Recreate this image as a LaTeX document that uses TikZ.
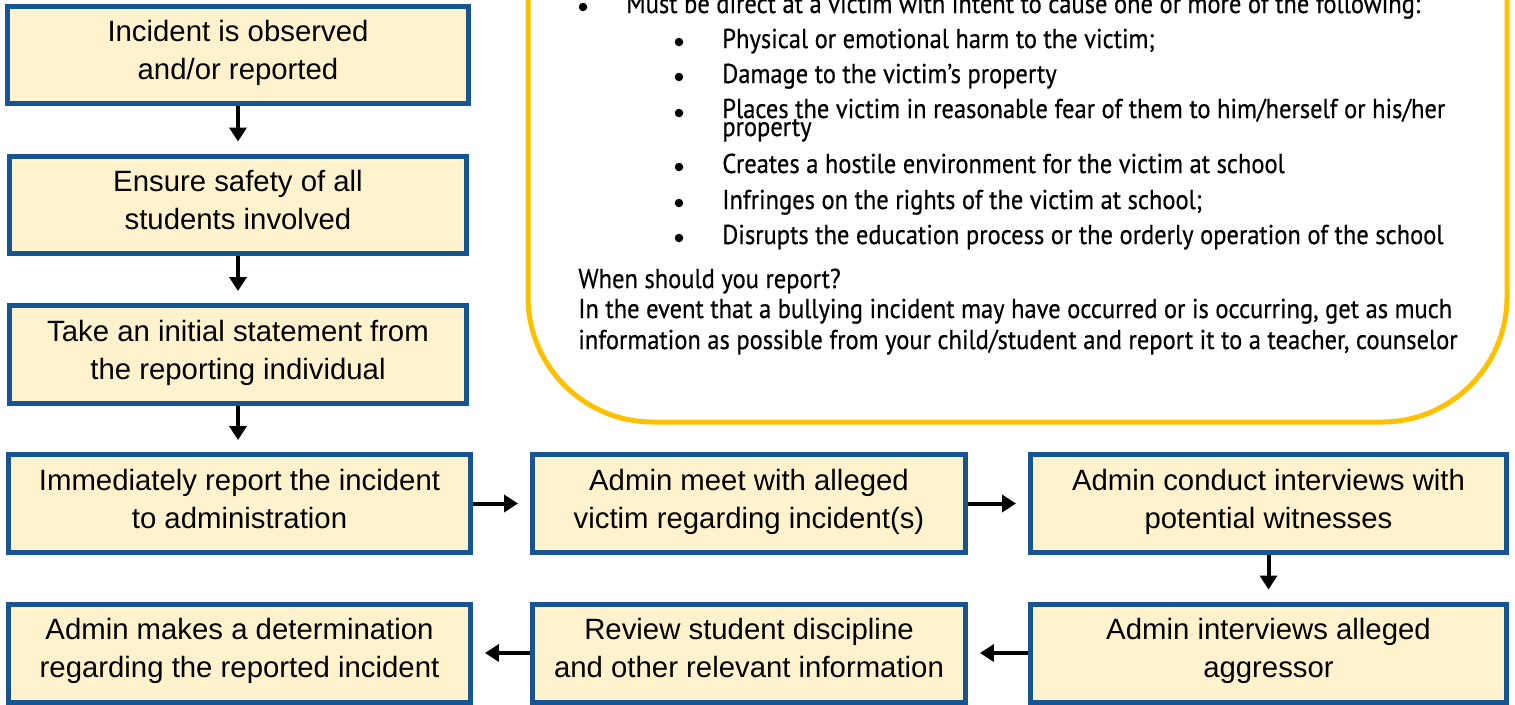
\documentclass[tikz,border=0pt]{standalone}
\usepackage{fontspec}
\setmainfont{Liberation Sans}
\newfontfamily\notefont[FakeStretch=0.9, FakeBold=0.5]{PT Sans}
\usetikzlibrary{arrows.meta}
\definecolor{boxblue}{RGB}{22,84,148}
\definecolor{boxfill}{RGB}{255,242,204}
\definecolor{notegold}{RGB}{255,192,0}
\tikzset{
  stepbox/.style= {draw=boxblue, line width=0.1cm, fill=boxfill, align=center,
    minimum height=1.96cm, text depth=0.2cm, font=\fontsize{16.7}{21.6}\selectfont},
  flow/.style= {line width=0.08cm, -{Triangle[length=0.28cm, width=0.34cm]}, shorten >=0.24cm},
  note/.style= {anchor=base west, inner sep=0, font=\notefont\fontsize{15.5}{18}\selectfont},
  dot/.style= {circle, fill=black, inner sep=0, minimum size=0.17cm},
}

\begin{document}
\begin{tikzpicture}[x=0.02cm, y=-0.02cm]
  \useasboundingbox (0,0) rectangle (1515,704);

  % definition box
  \draw [notegold, line width=0.1cm, rounded corners=2.5cm] (528,-150) rectangle (1507,422);
  \node [dot] (d0) at (583,7) {};
  \node [note] (n0) at (626,13) {Must be direct at a victim with intent to cause one or more of the following:};
  \node [dot] (d1) at (679,42) {};
  \node [note] (n1) at (722,48) {Physical or emotional harm to the victim;};
  \node [dot] (d2) at (679,77) {};
  \node [note] (n2) at (722,83) {Damage to the victim’s property};
  \node [dot] (d3) at (679,113) {};
  \node [note] (n3) at (722,118) {Places the victim in reasonable fear of them to him/herself or his/her};
  \node [note] (n3b) at (722,136) {property};
  \node [dot] (d4) at (679,167) {};
  \node [note] (n4) at (722,173) {Creates a hostile environment for the victim at school};
  \node [dot] (d5) at (679,203) {};
  \node [note] (n5) at (722,209) {Infringes on the rights of the victim at school;};
  \node [dot] (d6) at (679,238) {};
  \node [note] (n6) at (722,244) {Disrupts the education process or the orderly operation of the school};
  \node [note] (q) at (578,288) {When should you report?};
  \node [note] (r1) at (578,318) {In the event that a bullying incident may have occurred or is occurring, get as much};
  \node [note] (r2) at (578,349) {information as possible from your child/student and report it to a teacher, counselor};

  % flow steps
  \node [stepbox, minimum width=9.22cm] (s1) at (238,55) {Incident is observed\\and/or reported};
  \node [stepbox, minimum width=9.14cm] (s2) at (238,205) {Ensure safety of all\\students involved};
  \node [stepbox, minimum width=9.14cm] (s3) at (238,354.5) {Take an initial statement from\\the reporting individual};
  \node [stepbox, minimum width=9.24cm] (s4) at (239.5,503.5) {Immediately report the incident\\to administration};
  \node [stepbox, minimum width=8.66cm] (s5) at (749,503.5) {Admin meet with alleged\\victim regarding incident(s)};
  \node [stepbox, minimum width=9.52cm] (s6) at (1268.5,503.5) {Admin conduct interviews with\\potential witnesses};
  \node [stepbox, minimum width=9.52cm] (s7) at (1268.5,653) {Admin interviews alleged\\aggressor};
  \node [stepbox, minimum width=8.66cm] (s8) at (749,653) {Review student discipline\\and other relevant information};
  \node [stepbox, minimum width=9.24cm] (s9) at (239.5,653) {Admin makes a determination\\regarding the reported incident};

  \draw [flow] (s1) -- (s2);
  \draw [flow] (s2) -- (s3);
  \draw [flow] (s3) -- (s3 |- s4.north);
  \draw [flow] (s4) -- (s5);
  \draw [flow] (s5) -- (s6);
  \draw [flow] (s6) -- (s7);
  \draw [flow] (s7) -- (s8);
  \draw [flow] (s8) -- (s9);
\end{tikzpicture}
\end{document}
